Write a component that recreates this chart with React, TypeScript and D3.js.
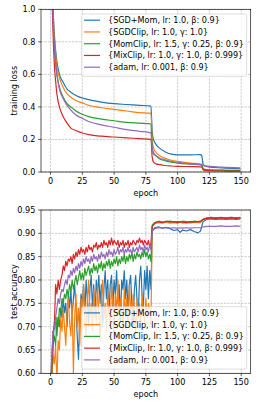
import React from "react";
import * as d3 from "d3";

const W = 258;
const H = 404;
const FONT = "DejaVu Sans, sans-serif";
const FS = 8.1;

const seriesNames = [
  "{SGD+Mom, lr: 1.0, β: 0.9}",
  "{SGDClip, lr: 1.0, γ: 1.0}",
  "{MomClip, lr: 1.5, γ: 0.25, β: 0.9}",
  "{MixClip, lr: 1.0, γ: 1.0, β: 0.999}",
  "{adam, lr: 0.001, β: 0.9}",
];
const colors = ["#1f77b4", "#ff7f0e", "#2ca02c", "#d62728", "#9467bd"];

const xTicks = [0, 25, 50, 75, 100, 125, 150];
const lossTicks = [0.0, 0.2, 0.4, 0.6, 0.8, 1.0];
const accTicks = [0.6, 0.65, 0.7, 0.75, 0.8, 0.85, 0.9, 0.95];

// ---- training loss ----
const lossEpochs = [0, 1, 2, 3, 4, 5, 7, 10, 13, 16, 20, 25, 30, 40, 50, 60, 70, 79, 80, 81, 83, 86, 90, 95, 100, 110, 118, 119, 120, 121, 125, 135, 149];
const lossSGDMom = [2.3, 1.3, 1.0, 0.85, 0.75, 0.68, 0.6, 0.55, 0.51, 0.49, 0.47, 0.455, 0.445, 0.43, 0.42, 0.415, 0.41, 0.405, 0.25, 0.2, 0.17, 0.145, 0.125, 0.11, 0.105, 0.105, 0.107, 0.1, 0.05, 0.04, 0.03, 0.025, 0.02];
const lossSGDClip = [2.3, 1.3, 1.0, 0.82, 0.72, 0.65, 0.58, 0.52, 0.48, 0.46, 0.44, 0.425, 0.41, 0.395, 0.385, 0.375, 0.365, 0.36, 0.2, 0.15, 0.12, 0.1, 0.085, 0.072, 0.065, 0.055, 0.049, 0.048, 0.02, 0.016, 0.013, 0.011, 0.01];
const lossMomClip = [2.3, 1.3, 0.95, 0.78, 0.67, 0.6, 0.52, 0.46, 0.42, 0.4, 0.375, 0.355, 0.34, 0.325, 0.315, 0.305, 0.3, 0.295, 0.15, 0.12, 0.1, 0.08, 0.07, 0.06, 0.055, 0.048, 0.043, 0.042, 0.02, 0.016, 0.013, 0.011, 0.01];
const lossMixClip = [2.3, 1.2, 0.85, 0.66, 0.56, 0.48, 0.4, 0.34, 0.3, 0.27, 0.255, 0.24, 0.23, 0.22, 0.215, 0.21, 0.205, 0.2, 0.09, 0.06, 0.05, 0.045, 0.04, 0.037, 0.035, 0.033, 0.031, 0.03, 0.015, 0.01, 0.008, 0.006, 0.005];
const lossAdam = [2.3, 1.3, 0.95, 0.78, 0.67, 0.6, 0.51, 0.45, 0.41, 0.38, 0.35, 0.33, 0.31, 0.29, 0.275, 0.26, 0.25, 0.24, 0.14, 0.11, 0.1, 0.085, 0.075, 0.065, 0.06, 0.05, 0.046, 0.045, 0.04, 0.038, 0.035, 0.03, 0.025];

// ---- test accuracy ----
// epochs 0..79 one value each, then a sparser grid after the first lr drop
const accPostEpochs = [80, 82, 85, 88, 91, 94, 97, 100, 102, 104, 107, 110, 113, 116, 118, 120, 123, 126, 130, 134, 138, 142, 146, 149];

const accSGDMomPre = [
  0.55, 0.6, 0.66, 0.71, 0.71, 0.68, 0.72, 0.70, 0.74, 0.72,
  0.76, 0.73, 0.75, 0.70, 0.77, 0.74, 0.78, 0.72, 0.76, 0.79,
  0.74, 0.68, 0.63, 0.72, 0.77, 0.75, 0.79, 0.73, 0.80, 0.76,
  0.70, 0.78, 0.81, 0.74, 0.79, 0.72, 0.80, 0.77, 0.81, 0.75,
  0.79, 0.70, 0.78, 0.82, 0.76, 0.80, 0.73, 0.79, 0.81, 0.74,
  0.80, 0.77, 0.82, 0.75, 0.79, 0.71, 0.80, 0.78, 0.82, 0.76,
  0.80, 0.73, 0.79, 0.81, 0.75, 0.70, 0.78, 0.81, 0.76, 0.72,
  0.80, 0.83, 0.77, 0.74, 0.82, 0.78, 0.83, 0.76, 0.82, 0.78,
];
const accSGDMomPost = [0.905, 0.912, 0.914, 0.911, 0.913, 0.91, 0.906, 0.908, 0.902, 0.907, 0.905, 0.908, 0.904, 0.901, 0.905, 0.925, 0.93, 0.931, 0.93, 0.931, 0.93, 0.931, 0.93, 0.931];

const accSGDClipPre = [
  0.52, 0.58, 0.64, 0.62, 0.66, 0.58, 0.67, 0.65, 0.72, 0.69,
  0.74, 0.70, 0.66, 0.73, 0.76, 0.71, 0.68, 0.75, 0.60, 0.72,
  0.77, 0.70, 0.74, 0.66, 0.76, 0.73, 0.79, 0.71, 0.68, 0.76,
  0.80, 0.72, 0.75, 0.69, 0.78, 0.74, 0.71, 0.79, 0.73, 0.67,
  0.76, 0.80, 0.72, 0.75, 0.69, 0.78, 0.73, 0.70, 0.79, 0.75,
  0.68, 0.77, 0.73, 0.80, 0.71, 0.76, 0.74, 0.69, 0.78, 0.72,
  0.76, 0.70, 0.79, 0.74, 0.71, 0.77, 0.73, 0.68, 0.76, 0.72,
  0.75, 0.70, 0.77, 0.73, 0.71, 0.76, 0.72, 0.75, 0.74, 0.70,
];
const accSGDClipPost = [0.915, 0.921, 0.923, 0.922, 0.924, 0.922, 0.923, 0.922, 0.924, 0.922, 0.923, 0.922, 0.924, 0.923, 0.923, 0.929, 0.932, 0.934, 0.932, 0.933, 0.932, 0.934, 0.933, 0.932];

const accMomClipPre = [
  0.56, 0.6, 0.66, 0.68, 0.66, 0.72, 0.70, 0.74, 0.73, 0.76,
  0.75, 0.77, 0.76, 0.78, 0.765, 0.79, 0.775, 0.80, 0.78, 0.795,
  0.81, 0.79, 0.805, 0.82, 0.80, 0.815, 0.80, 0.825, 0.81, 0.82,
  0.83, 0.81, 0.825, 0.815, 0.835, 0.82, 0.83, 0.815, 0.835, 0.825,
  0.84, 0.82, 0.835, 0.825, 0.84, 0.83, 0.845, 0.825, 0.84, 0.83,
  0.845, 0.835, 0.85, 0.83, 0.845, 0.835, 0.85, 0.84, 0.855, 0.835,
  0.85, 0.84, 0.855, 0.845, 0.86, 0.84, 0.855, 0.845, 0.86, 0.85,
  0.855, 0.845, 0.86, 0.85, 0.865, 0.85, 0.86, 0.845, 0.855, 0.84,
];
const accMomClipPost = [0.918, 0.923, 0.926, 0.924, 0.925, 0.926, 0.924, 0.925, 0.924, 0.926, 0.925, 0.924, 0.926, 0.925, 0.925, 0.93, 0.933, 0.934, 0.933, 0.934, 0.933, 0.934, 0.933, 0.934];

const accMixClipPre = [
  0.55, 0.62, 0.69, 0.70, 0.79, 0.77, 0.80, 0.78, 0.80, 0.81,
  0.83, 0.82, 0.84, 0.83, 0.845, 0.84, 0.85, 0.835, 0.855, 0.845,
  0.86, 0.85, 0.865, 0.855, 0.87, 0.86, 0.865, 0.855, 0.87, 0.86,
  0.875, 0.865, 0.87, 0.86, 0.875, 0.87, 0.88, 0.865, 0.875, 0.87,
  0.88, 0.87, 0.885, 0.875, 0.88, 0.87, 0.885, 0.875, 0.89, 0.875,
  0.885, 0.88, 0.875, 0.885, 0.87, 0.88, 0.875, 0.885, 0.87, 0.88,
  0.875, 0.885, 0.87, 0.88, 0.875, 0.885, 0.88, 0.875, 0.885, 0.88,
  0.89, 0.88, 0.885, 0.875, 0.885, 0.88, 0.875, 0.885, 0.87, 0.88,
];
const accMixClipPost = [0.915, 0.922, 0.925, 0.923, 0.926, 0.924, 0.925, 0.923, 0.925, 0.924, 0.923, 0.925, 0.924, 0.925, 0.926, 0.93, 0.932, 0.933, 0.932, 0.933, 0.932, 0.933, 0.932, 0.933];

const accAdamPre = [
  0.58, 0.64, 0.69, 0.695, 0.72, 0.74, 0.76, 0.75, 0.77, 0.78,
  0.775, 0.79, 0.80, 0.79, 0.81, 0.805, 0.82, 0.81, 0.825, 0.815,
  0.83, 0.82, 0.835, 0.825, 0.84, 0.83, 0.845, 0.835, 0.85, 0.84,
  0.845, 0.835, 0.85, 0.84, 0.855, 0.845, 0.85, 0.84, 0.855, 0.845,
  0.86, 0.85, 0.855, 0.845, 0.86, 0.85, 0.865, 0.855, 0.86, 0.85,
  0.865, 0.855, 0.86, 0.87, 0.855, 0.865, 0.86, 0.87, 0.855, 0.865,
  0.86, 0.87, 0.86, 0.865, 0.855, 0.87, 0.86, 0.865, 0.87, 0.86,
  0.875, 0.865, 0.87, 0.86, 0.875, 0.865, 0.87, 0.86, 0.875, 0.865,
];
const accAdamPost = [0.905, 0.91, 0.912, 0.911, 0.912, 0.911, 0.912, 0.911, 0.912, 0.911, 0.912, 0.911, 0.912, 0.912, 0.912, 0.914, 0.915, 0.915, 0.915, 0.916, 0.915, 0.915, 0.916, 0.915];

type Pt = [number, number];

const zipLoss = (vals: number[]): Pt[] => vals.map((v, i) => [lossEpochs[i], v]);
const zipAcc = (pre: number[], post: number[]): Pt[] => [
  ...pre.map((v, i) => [i, v] as Pt),
  ...post.map((v, i) => [accPostEpochs[i], v] as Pt),
];

const lossSeries = [lossSGDMom, lossSGDClip, lossMomClip, lossMixClip, lossAdam].map(zipLoss);
const accSeries = [
  zipAcc(accSGDMomPre, accSGDMomPost),
  zipAcc(accSGDClipPre, accSGDClipPost),
  zipAcc(accMomClipPre, accMomClipPost),
  zipAcc(accMixClipPre, accMixClipPost),
  zipAcc(accAdamPre, accAdamPost),
];

interface PanelProps {
  id: string;
  top: number;
  bottom: number;
  yDomain: [number, number];
  yTicks: number[];
  yFmt: (v: number) => string;
  yLabel: string;
  series: Pt[][];
  smooth: boolean;
  legendTop: number;
}

const LEFT = 41;
const RIGHT = 250.7;

function Panel(p: PanelProps) {
  const x = d3.scaleLinear().domain([-7.5, 157.5]).range([LEFT, RIGHT]);
  const y = d3.scaleLinear().domain(p.yDomain).range([p.bottom, p.top]);
  const line = d3
    .line<Pt>()
    .x((d) => x(d[0]))
    .y((d) => y(d[1]))
    .curve(p.smooth ? d3.curveMonotoneX : d3.curveLinear);
  const tickLen = 2.8;
  const pad = 2.8;
  const legLeft = 81.7;
  const legRight = 246.7;
  const rowH = 11.75;
  const legH = 62.3;
  return (
    <g>
      <defs>
        <clipPath id={p.id}>
          <rect x={LEFT} y={p.top} width={RIGHT - LEFT} height={p.bottom - p.top} />
        </clipPath>
      </defs>
      {/* grid */}
      {xTicks.map((t) => (
        <line key={"gx" + t} x1={x(t)} x2={x(t)} y1={p.top} y2={p.bottom} stroke="#b0b0b0" strokeWidth={0.65} strokeDasharray="2.4,1.05" />
      ))}
      {p.yTicks.map((t) => (
        <line key={"gy" + t} x1={LEFT} x2={RIGHT} y1={y(t)} y2={y(t)} stroke="#b0b0b0" strokeWidth={0.65} strokeDasharray="2.4,1.05" />
      ))}
      {/* lines */}
      <g clipPath={`url(#${p.id})`}>
        {p.series.map((s, i) => (
          <path key={i} d={line(s) || ""} fill="none" stroke={colors[i]} strokeWidth={1.2} strokeLinejoin="round" strokeLinecap="square" />
        ))}
      </g>
      {/* spines */}
      <rect x={LEFT} y={p.top} width={RIGHT - LEFT} height={p.bottom - p.top} fill="none" stroke="#000" strokeWidth={0.65} />
      {/* x ticks */}
      {xTicks.map((t) => (
        <g key={"xt" + t}>
          <line x1={x(t)} x2={x(t)} y1={p.bottom} y2={p.bottom + tickLen} stroke="#000" strokeWidth={0.65} />
          <text x={x(t)} y={p.bottom + tickLen + pad} dy="0.76em" textAnchor="middle" fontFamily={FONT} fontSize={FS} fill="#000">
            {t}
          </text>
        </g>
      ))}
      {/* y ticks */}
      {p.yTicks.map((t) => (
        <g key={"yt" + t}>
          <line x1={LEFT - tickLen} x2={LEFT} y1={y(t)} y2={y(t)} stroke="#000" strokeWidth={0.65} />
          <text x={LEFT - tickLen - pad} y={y(t)} dy="0.36em" textAnchor="end" fontFamily={FONT} fontSize={FS} fill="#000">
            {p.yFmt(t)}
          </text>
        </g>
      ))}
      <text x={(LEFT + RIGHT) / 2} y={p.bottom + 23.6} textAnchor="middle" fontFamily={FONT} fontSize={FS} fill="#000">
        epoch
      </text>
      <text
        transform={`translate(17.2,${(p.top + p.bottom) / 2}) rotate(-90)`}
        textAnchor="middle"
        fontFamily={FONT}
        fontSize={FS}
        fill="#000"
      >
        {p.yLabel}
      </text>
      {/* legend */}
      <g>
        <rect x={legLeft} y={p.legendTop} width={legRight - legLeft} height={legH} rx={1.6} fill="#fff" fillOpacity={0.8} stroke="#cccccc" strokeWidth={0.65} />
        {seriesNames.map((n, i) => {
          const cy = p.legendTop + 6.2 + i * rowH;
          return (
            <g key={n}>
              <line x1={84} x2={100} y1={cy} y2={cy} stroke={colors[i]} strokeWidth={1.2} />
              <text x={108} y={cy} dy="0.36em" fontFamily={FONT} fontSize={FS} fill="#000">
                {n}
              </text>
            </g>
          );
        })}
      </g>
    </g>
  );
}

export default function App() {
  return (
    <svg
      width={W}
      height={H}
      viewBox={`0 0 ${W} ${H}`}
      style={{ position: "fixed", left: 0, top: 0, background: "#fff" }}
    >
      <rect x={0} y={0} width={W} height={H} fill="#fff" />
      <Panel
        id="clipLoss"
        top={9.3}
        bottom={172}
        yDomain={[0, 1]}
        yTicks={lossTicks}
        yFmt={(v) => v.toFixed(1)}
        yLabel="training loss"
        series={lossSeries}
        smooth={true}
        legendTop={14}
      />
      <Panel
        id="clipAcc"
        top={210}
        bottom={373.3}
        yDomain={[0.6, 0.95]}
        yTicks={accTicks}
        yFmt={(v) => v.toFixed(2)}
        yLabel="test accuracy"
        series={accSeries}
        smooth={false}
        legendTop={306.7}
      />
    </svg>
  );
}
